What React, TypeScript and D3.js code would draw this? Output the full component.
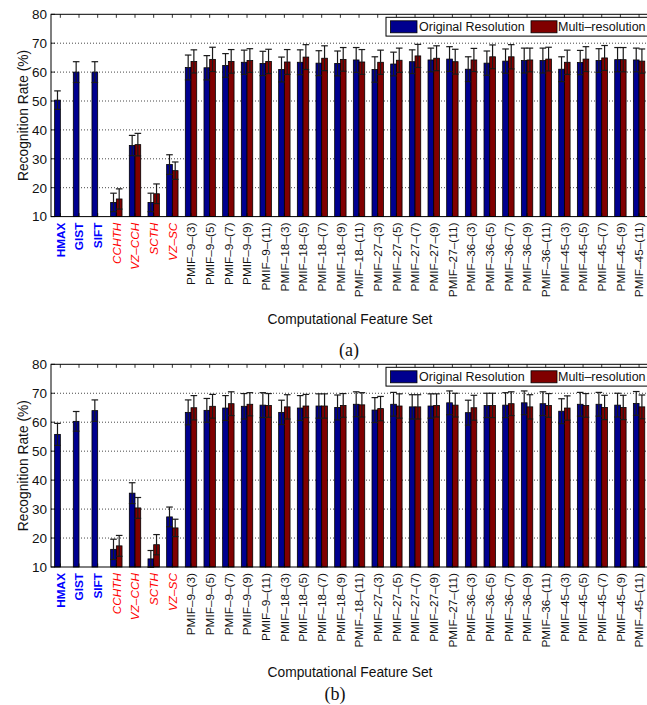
import * as d3 from "d3";

const categories = [
  "HMAX", "GIST", "SIFT", "CCHTH", "VZ–CCH", "SCTH", "VZ–SC",
  "PMIF–9–(3)", "PMIF–9–(5)", "PMIF–9–(7)", "PMIF–9–(9)", "PMIF–9–(11)",
  "PMIF–18–(3)", "PMIF–18–(5)", "PMIF–18–(7)", "PMIF–18–(9)", "PMIF–18–(11)",
  "PMIF–27–(3)", "PMIF–27–(5)", "PMIF–27–(7)", "PMIF–27–(9)", "PMIF–27–(11)",
  "PMIF–36–(3)", "PMIF–36–(5)", "PMIF–36–(7)", "PMIF–36–(9)", "PMIF–36–(11)",
  "PMIF–45–(3)", "PMIF–45–(5)", "PMIF–45–(7)", "PMIF–45–(9)", "PMIF–45–(11)",
];
// label style: base = bold blue, ref = italic red, pmif = plain black
const categoryKind = [
  "base", "base", "base", "ref", "ref", "ref", "ref",
  "pmif", "pmif", "pmif", "pmif", "pmif", "pmif", "pmif", "pmif", "pmif", "pmif",
  "pmif", "pmif", "pmif", "pmif", "pmif", "pmif", "pmif", "pmif", "pmif", "pmif",
  "pmif", "pmif", "pmif", "pmif", "pmif",
];
const yTicks = [10, 20, 30, 40, 50, 60, 70, 80];
const seriesNames = ["Original Resolution", "Multi–resolution"];

const origA = [50.3, 60.0, 60.0, 14.9, 34.6, 14.9, 28.0,
  61.6, 61.5, 62.3, 63.4, 63.0, 60.9, 63.4, 63.1, 63.0, 64.2,
  60.9, 62.8, 63.6, 64.2, 64.5, 61.0, 63.1, 63.8, 64.0, 64.0,
  61.0, 63.3, 64.0, 64.3, 64.2];
const multiA = [null, null, null, 16.1, 34.9, 17.9, 25.9,
  63.7, 64.4, 63.7, 64.0, 63.7, 63.5, 65.2, 64.8, 64.4, 63.5,
  63.4, 64.1, 65.6, 64.8, 63.6, 64.2, 65.3, 65.3, 64.2, 64.5,
  63.4, 64.5, 64.9, 64.3, 63.8];
const origErrA = [3.2, 3.6, 3.6, 3.2, 3.5, 3.2, 3.4,
  4.3, 4.2, 4.1, 4.2, 4.2, 4.3, 4.3, 4.3, 4.3, 4.3,
  4.4, 4.1, 4.1, 4.1, 4.3, 4.3, 4.2, 4.2, 4.3, 4.3,
  4.3, 4.2, 4.1, 4.2, 4.1];
const multiErrA = [null, null, null, 3.5, 3.9, 3.4, 3.0,
  4.0, 4.2, 4.1, 4.1, 4.2, 4.3, 4.3, 4.3, 4.1, 4.3,
  4.2, 4.2, 4.0, 4.3, 4.3, 4.0, 4.1, 4.2, 4.1, 4.1,
  4.2, 4.3, 4.3, 4.2, 4.2];

const origB = [55.8, 60.3, 64.0, 16.1, 35.5, 12.8, 27.3,
  63.4, 64.1, 64.9, 65.5, 65.9, 63.4, 64.9, 65.6, 65.1, 66.2,
  64.2, 66.2, 65.3, 65.6, 66.7, 63.3, 65.8, 65.9, 66.7, 66.4,
  63.8, 66.2, 66.2, 65.9, 66.5];
const multiB = [null, null, null, 17.3, 30.4, 17.7, 23.5,
  65.0, 65.5, 66.4, 66.2, 65.8, 65.3, 65.6, 65.6, 65.8, 66.0,
  64.7, 65.6, 65.3, 65.8, 65.9, 65.0, 65.8, 66.4, 65.3, 65.8,
  64.9, 65.8, 65.1, 65.1, 65.3];
const origErrB = [3.8, 3.4, 3.7, 3.5, 3.6, 2.9, 3.4,
  4.3, 4.1, 4.3, 4.4, 4.3, 4.2, 4.3, 4.2, 4.3, 4.3,
  4.3, 4.1, 4.2, 4.2, 4.1, 4.3, 4.2, 4.3, 4.1, 4.1,
  4.3, 4.1, 4.1, 4.1, 4.1];
const multiErrB = [null, null, null, 3.6, 3.6, 3.5, 3.0,
  4.2, 4.1, 4.1, 4.0, 4.1, 4.2, 4.0, 4.2, 4.1, 4.2,
  4.2, 4.2, 4.2, 4.0, 4.1, 4.3, 4.2, 4.1, 4.2, 4.1,
  4.2, 4.1, 4.2, 4.2, 4.1];

const BLUE = "#00008f";
const RED = "#800000";
const SANS = "'Liberation Sans', Arial, Helvetica, sans-serif";
const SERIF = "'Liberation Serif', 'Times New Roman', serif";

const left = 51;
const right = 648.4;

type PanelProps = {
  top: number;
  bottom: number;
  orig: (number | null)[];
  multi: (number | null)[];
  origErr: (number | null)[];
  multiErr: (number | null)[];
  titleY: number;
  tag: string;
  tagX: number;
  tagY: number;
};

function Panel({ top, bottom, orig, multi, origErr, multiErr, titleY, tag, tagX, tagY }: PanelProps) {
  const x = d3.scaleBand<string>().domain(categories).range([left, right]);
  const step = x.bandwidth();
  const sub = d3.scaleBand<number>().domain([0, 1]).range([-step * 0.305, step * 0.305]);
  const y = d3.scaleLinear().domain([10, 80]).range([bottom, top]);
  const cx = (c: string) => (x(c) ?? 0) + step / 2;
  const series = [
    { vals: orig, errs: origErr, color: BLUE },
    { vals: multi, errs: multiErr, color: RED },
  ];
  const capW = 3.3;

  return (
    <g>
      {/* grid */}
      {yTicks.filter((t) => t > 10 && t < 80).map((t) => (
        <line key={t} x1={left} x2={right} y1={y(t)} y2={y(t)}
          stroke="#333" strokeWidth={0.9} strokeDasharray="1,2" />
      ))}

      {/* bars */}
      {series.map((s, si) =>
        categories.map((c, i) => {
          const v = s.vals[i];
          if (v == null) return null;
          const bx = cx(c) + (sub(si) ?? 0);
          return (
            <rect key={`${si}-${c}`} x={bx} y={y(v)} width={sub.bandwidth()}
              height={y(10) - y(v)} fill={s.color} stroke="#000" strokeWidth={0.8} />
          );
        })
      )}

      {/* error bars */}
      {series.map((s, si) =>
        categories.map((c, i) => {
          const v = s.vals[i];
          const e = s.errs[i];
          if (v == null || e == null) return null;
          const ex = cx(c) + (sub(si) ?? 0) + sub.bandwidth() / 2;
          return (
            <g key={`e${si}-${c}`} stroke="#1a1a1a" strokeWidth={1.2}>
              <line x1={ex} x2={ex} y1={y(v - e)} y2={y(v + e)} />
              <line x1={ex - capW} x2={ex + capW} y1={y(v + e)} y2={y(v + e)} />
              <line x1={ex - capW} x2={ex + capW} y1={y(v - e)} y2={y(v - e)} />
            </g>
          );
        })
      )}

      {/* frame */}
      <rect x={left} y={top} width={right - left} height={bottom - top}
        fill="none" stroke="#000" strokeWidth={1} />

      {/* ticks */}
      {categories.map((c) => (
        <g key={`t${c}`} stroke="#000" strokeWidth={0.8}>
          <line x1={cx(c)} x2={cx(c)} y1={bottom} y2={bottom - 3.5} />
          <line x1={cx(c)} x2={cx(c)} y1={top} y2={top + 3.5} />
        </g>
      ))}
      {yTicks.map((t) => (
        <g key={`yt${t}`}>
          <line x1={left} x2={left + 4} y1={y(t)} y2={y(t)} stroke="#000" strokeWidth={0.8} />
          <text x={left - 4} y={y(t)} dy="0.36em" textAnchor="end"
            fontFamily={SANS} fontSize={13.5} fill="#111">{t}</text>
        </g>
      ))}

      {/* category labels */}
      {categories.map((c, i) => {
        const kind = categoryKind[i];
        return (
          <text key={`l${c}`}
            transform={`translate(${cx(c)},${bottom + 6}) rotate(-90)`}
            dy="0.36em" textAnchor="end" fontFamily={SANS} fontSize={11.8}
            fontWeight={kind === "base" ? "bold" : "normal"}
            fontStyle={kind === "ref" ? "italic" : "normal"}
            fill={kind === "base" ? "#0000ff" : kind === "ref" ? "#ff0000" : "#111"}>
            {c}
          </text>
        );
      })}

      {/* y title */}
      <text transform={`translate(${23},${(top + bottom) / 2}) rotate(-90)`}
        dy="0.36em" textAnchor="middle" fontFamily={SANS} fontSize={13.8} fill="#111">
        Recognition Rate (%)
      </text>

      {/* x title */}
      <text x={350} y={titleY} textAnchor="middle" fontFamily={SANS} fontSize={13.8} fill="#111">
        Computational Feature Set
      </text>
      <text x={tagX} y={tagY} textAnchor="middle" fontFamily={SERIF} fontSize={18} fill="#111">
        {tag}
      </text>

      {/* legend */}
      <g transform={`translate(386,${top + 3})`}>
        <rect x={0} y={0} width={262} height={18.8} fill="#fff" stroke="#000" strokeWidth={1} />
        <rect x={4.5} y={3.5} width={26.5} height={12} fill={BLUE} stroke="#000" strokeWidth={0.8} />
        <text x={33} y={9.6} dy="0.36em" fontFamily={SANS} fontSize={12.5} fill="#111">{seriesNames[0]}</text>
        <rect x={145} y={3.5} width={26} height={12} fill={RED} stroke="#000" strokeWidth={0.8} />
        <text x={172} y={9.6} dy="0.36em" fontFamily={SANS} fontSize={12.5} fill="#111">{seriesNames[1]}</text>
      </g>
    </g>
  );
}

export default function App() {
  return (
    <svg width={647} height={705} style={{ position: "absolute", left: 0, top: 0, background: "#fff" }}>
      <rect x={0} y={0} width={647} height={705} fill="#fff" />
      <Panel top={14.3} bottom={216.6} orig={origA} multi={multiA} origErr={origErrA} multiErr={multiErrA}
        titleY={324} tag="(a)" tagX={349} tagY={356} />
      <Panel top={364.3} bottom={567} orig={origB} multi={multiB} origErr={origErrB} multiErr={multiErrB}
        titleY={677} tag="(b)" tagX={335} tagY={700} />
    </svg>
  );
}
